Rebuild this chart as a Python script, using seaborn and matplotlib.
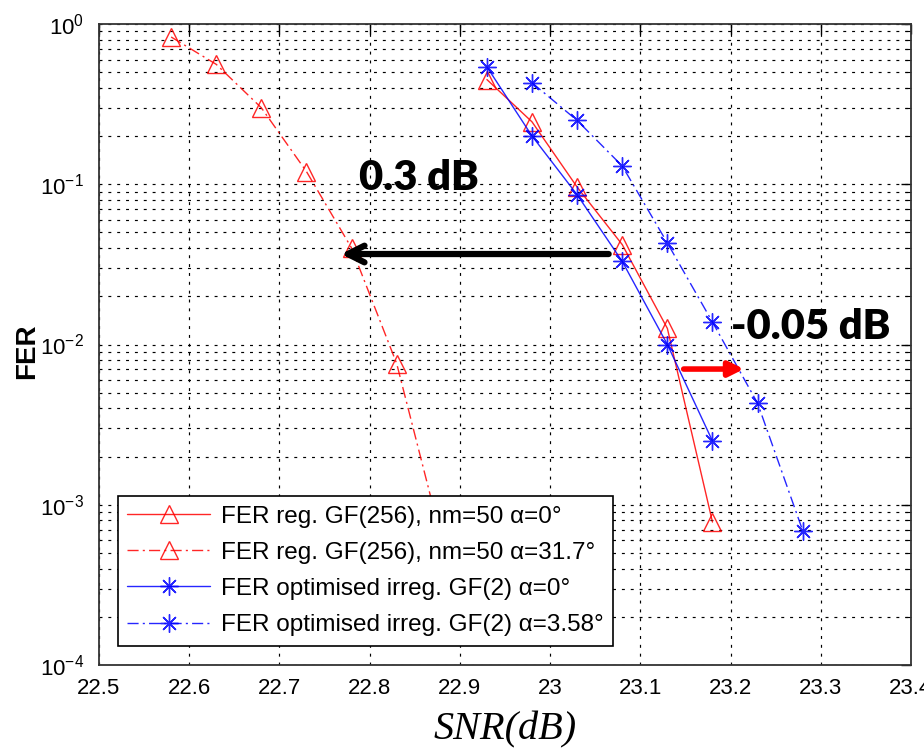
import numpy as np
import pandas as pd
import matplotlib
matplotlib.use("Agg")
import matplotlib.pyplot as plt
import seaborn as sns
from matplotlib.ticker import LogLocator, FixedLocator, FixedFormatter, NullFormatter

# ---- data ----
snr_reg0 = [22.93, 22.98, 23.03, 23.08, 23.13, 23.18]
fer_reg0 = [0.45, 0.245, 0.096, 0.042, 0.0126, 7.8e-4]

snr_reg317 = [22.58, 22.63, 22.68, 22.73, 22.78, 22.83, 22.88]
fer_reg317 = [0.83, 0.56, 0.30, 0.12, 0.040, 0.0076, 6e-4]

snr_irr0 = [22.93, 22.98, 23.03, 23.08, 23.13, 23.18]
fer_irr0 = [0.54, 0.20, 0.086, 0.033, 0.010, 0.0025]

snr_irr358 = [22.98, 23.03, 23.08, 23.13, 23.18, 23.23, 23.28]
fer_irr358 = [0.43, 0.25, 0.13, 0.043, 0.0138, 0.0043, 6.9e-4]

labels = ["FER reg. GF(256), nm=50 α=0°",
          "FER reg. GF(256), nm=50 α=31.7°",
          "FER optimised irreg. GF(2) α=0°",
          "FER optimised irreg. GF(2) α=3.58°"]

xticks = [22.5, 22.6, 22.7, 22.8, 22.9, 23.0, 23.1, 23.2, 23.3, 23.4]
xticklabels = ["22.5", "22.6", "22.7", "22.8", "22.9", "23", "23.1", "23.2", "23.3", "23.4"]

# ---- style ----
sns.set_style("white")
plt.rcParams["font.family"] = ["Liberation Sans", "DejaVu Sans"]
plt.rcParams["text.color"] = "black"
plt.rcParams["axes.labelcolor"] = "black"
plt.rcParams["xtick.color"] = "black"
plt.rcParams["ytick.color"] = "black"

fig = plt.figure(figsize=(9.24, 7.5), dpi=100)
ax = fig.add_axes([0.1071, 0.1133, 0.8788, 0.8547])

dashdot = (0, (8, 3, 1.5, 3))
series = [
    (snr_reg0, fer_reg0, "#ff0000", "-", "^", labels[0]),
    (snr_reg317, fer_reg317, "#ff0000", dashdot, "^", labels[1]),
    (snr_irr0, fer_irr0, "#0000ff", "-", (8, 2, 0), labels[2]),
    (snr_irr358, fer_irr358, "#0000ff", dashdot, (8, 2, 0), labels[3]),
]
for xs, ys, col, ls, mk, lab in series:
    df = pd.DataFrame({"snr": xs, "fer": ys})
    sns.lineplot(data=df, x="snr", y="fer", ax=ax, color=col, linestyle=ls,
                 lw=1.0, marker=mk, markersize=13, markerfacecolor="none",
                 markeredgecolor=col, markeredgewidth=1.0, label=lab,
                 estimator=None, sort=False, alpha=0.85)

ax.set_yscale("log")
ax.set_xlim(22.5, 23.4)
ax.set_ylim(1e-4, 1)

ax.xaxis.set_major_locator(FixedLocator(xticks))
ax.xaxis.set_major_formatter(FixedFormatter(xticklabels))
ax.yaxis.set_major_locator(LogLocator(base=10, numticks=10))
ax.yaxis.set_minor_locator(LogLocator(base=10, subs=np.arange(2, 10), numticks=20))
ax.yaxis.set_minor_formatter(NullFormatter())

grid_ls = (0, (2.5, 5))
ax.grid(True, which="major", axis="both", color="black", linestyle=grid_ls, lw=0.85)
ax.grid(True, which="minor", axis="y", color="black", linestyle=grid_ls, lw=0.85)
ax.set_axisbelow(True)

for s in ax.spines.values():
    s.set_color("#333333")
    s.set_linewidth(1.3)
    s.set_visible(True)

ax.tick_params(which="both", direction="in", top=True, right=True, color="black")
ax.tick_params(which="major", length=7, width=1.0, labelsize=16)
ax.tick_params(which="minor", length=4, width=0.8)
ax.tick_params(axis="y", which="major", pad=11)
ax.tick_params(axis="x", which="major", pad=9)

ax.set_ylabel("FER", fontsize=20, fontweight="bold")
ax.yaxis.set_label_coords(-0.072, 0.49)
ax.set_xlabel("SNR(dB)", fontsize=29, fontstyle="italic", family="Liberation Serif", labelpad=9)

leg = ax.legend(loc="lower left", bbox_to_anchor=(0.023, 0.03), borderaxespad=0,
                fontsize=17.5, numpoints=1, handlelength=3.4, handletextpad=0.45,
                labelspacing=0.58, frameon=True, fancybox=False, framealpha=1,
                borderpad=0.4)
leg.get_frame().set_edgecolor("black")
leg.get_frame().set_linewidth(1.2)

# annotations
ax.annotate("", xy=(22.765, 0.0367), xytext=(23.068, 0.0367),
            arrowprops=dict(arrowstyle="->", color="black", lw=4.5, mutation_scale=30))
ax.text(22.788, 0.11, "0.3 dB", fontsize=30, fontweight="heavy", family="Lato",
        color="black", ha="left", va="center")
ax.annotate("", xy=(23.218, 0.00703), xytext=(23.145, 0.00703),
            arrowprops=dict(arrowstyle="-|>", color="#ff0000", lw=4, mutation_scale=22))
ax.text(23.201, 0.0128, "-0.05 dB", fontsize=30, fontweight="heavy", family="Lato",
        color="black", ha="left", va="center")

fig.savefig("out.png", dpi=100)
